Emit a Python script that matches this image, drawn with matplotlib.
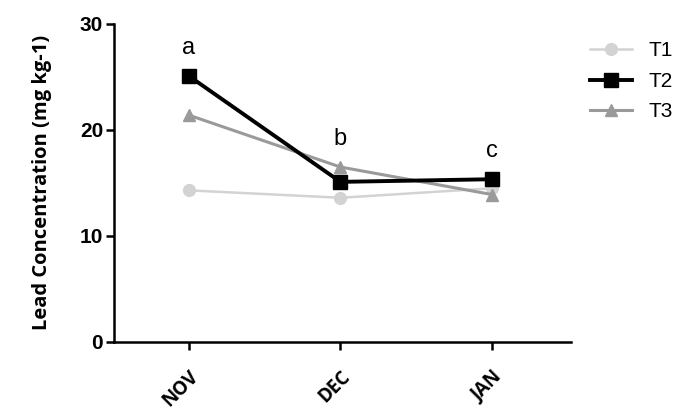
import matplotlib.pyplot as plt
import numpy as np

months = ['NOV', 'DEC', 'JAN']
t1 = [14.3, 13.6, 14.5]
t2 = [25.1, 15.1, 15.35]
t3 = [21.4, 16.5, 13.9]
letters = ['a', 'b', 'c']

fig = plt.figure(figsize=(6.8, 4.12), dpi=100)
ax = fig.add_axes([0.168, 0.170, 0.672, 0.772])
x = np.arange(len(months))

ax.plot(x, t1, color='#d3d3d3', lw=1.8, marker='o', ms=8.5, label='T1', zorder=2)
ax.plot(x, t3, color='#9a9a9a', lw=2.2, marker='^', ms=9, label='T3', zorder=3)
ax.plot(x, t2, color='black', lw=2.8, marker='s', ms=9.5, label='T2', zorder=4)

tops = np.max([t1, t2, t3], axis=0)
for xi, top, lt in zip(x, tops, letters):
    ax.annotate(lt, (xi, top), xytext=(0, 20), textcoords='offset points',
                ha='center', va='center', fontsize=17, family='Liberation Sans')

ax.set_xlim(-0.49, 2.52)
ax.set_ylim(0, 30)
ax.set_yticks([0, 10, 20, 30])
ax.set_xticks(x)
ax.set_xticklabels(months, rotation=45, ha='right', rotation_mode='anchor',
                   fontsize=13.5, fontweight='bold', family='Open Sans')
for lab in ax.get_yticklabels():
    lab.set_fontsize(15)
    lab.set_fontweight('bold')
    lab.set_family('Liberation Sans')
ax.set_ylabel('Lead Concentration (mg kg-1)', fontsize=14.5, fontweight='bold',
              family='Open Sans', labelpad=20)

for s in ['top', 'right']:
    ax.spines[s].set_visible(False)
for s in ['left', 'bottom']:
    ax.spines[s].set_linewidth(1.8)
ax.tick_params(width=1.8, length=6)
ax.tick_params(axis='x', pad=12)
ax.tick_params(axis='y', pad=2)

h, l = ax.get_legend_handles_labels()
order = [0, 2, 1]
fig.legend([h[i] for i in order], [l[i] for i in order], loc='upper left',
           bbox_to_anchor=(0.84, 0.945), frameon=False, handlelength=2.0,
           labelspacing=0.55, prop={'family': 'Liberation Sans', 'size': 15})

fig.savefig('out.png', dpi=100, facecolor='white')
